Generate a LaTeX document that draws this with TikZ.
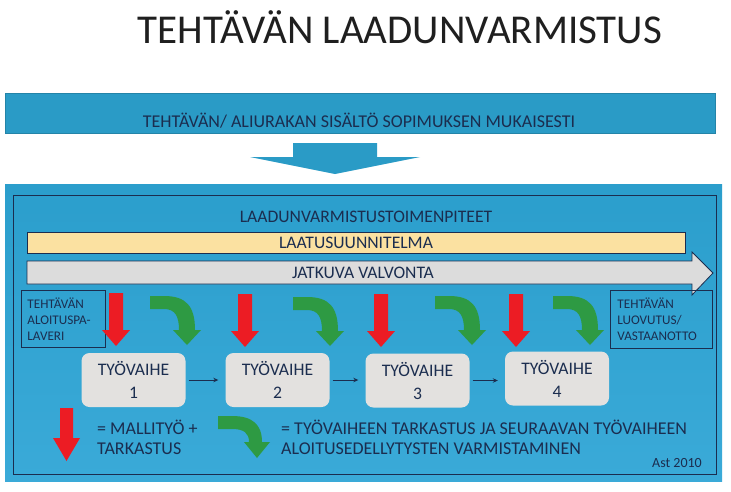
\documentclass[tikz,border=0pt]{standalone}
\usepackage{fontspec}
\setmainfont{Carlito}
\usetikzlibrary{arrows.meta}
\definecolor{bannerblue}{HTML}{2A9BC6}
\definecolor{boxblue}{HTML}{2B9ECC}
\definecolor{boxbluelight}{HTML}{3AAAD8}
\definecolor{navy}{HTML}{1B2D4F}
\definecolor{barbeige}{HTML}{FBE1A1}
\definecolor{bargrey}{HTML}{DCDCDC}
\definecolor{stepgrey}{HTML}{E3E1DF}
\definecolor{redarrow}{HTML}{EC1C24}
\definecolor{greenarrow}{HTML}{2E9A43}
\tikzset{
  txt/.style={text=navy, inner sep=0pt, font=\fontsize{17.6}{20}\selectfont},
  bigtxt/.style={text=navy, inner sep=0pt, font=\fontsize{18}{20}\selectfont},
  smalltxt/.style={text=navy, font=\fontsize{13.2}{16}\selectfont},
  barline/.style={draw=navy, line width=0.8pt},
  sidebox/.style={barline, minimum height=57pt, anchor=north west, align=left, inner sep=0pt, smalltxt},
  stepbox/.style={fill=stepgrey, rounded corners=8pt, minimum width=104pt, minimum height=54pt,
     align=center, text=navy, font=\fontsize{17.6}{23}\selectfont, inner sep=0pt},
  conn/.style={draw=navy, line width=0.7pt, shorten <=3pt, shorten >=7pt, -{Stealth[length=5pt,width=4.5pt]}},
  redarr/.pic={\fill[redarrow] (-7,0) -- (7,0) -- (7,37) -- (14,37) -- (0,53) -- (-14,37) -- (-7,37) -- cycle;},
  greenarr/.pic={\fill[greenarrow] (0,0) -- (14,0) .. controls (36,0) and (45,10) .. (45,34) -- (51,34) -- (37,49) -- (23,34) -- (29,34) .. controls (29,20) and (25,13) .. (14,13) -- (0,13) -- cycle;}
}
\begin{document}
\begin{tikzpicture}[x=1pt,y=-1pt]
\useasboundingbox (0,0) rectangle (731,491);
\fill[white] (0,0) rectangle (731,491);
% title
\node[anchor=base, inner sep=0pt, text=black!88, font=\fontsize{41}{48}\selectfont] (title) at (400,43) {TEHTÄVÄN LAADUNVARMISTUS};
% banner
\node[fill=bannerblue, draw=bannerblue!85!black, line width=0.5pt, minimum width=710pt, minimum height=40pt, anchor=north west, inner sep=0pt] (banner) at (5,93) {};
\node[bigtxt, anchor=base] (bannertext) at (359,127) {TEHTÄVÄN/ ALIURAKAN SISÄLTÖ SOPIMUKSEN MUKAISESTI};
% down arrow
\fill[bannerblue] (293,143) -- (377,143) -- (377,157) -- (420,157) -- (335,174) -- (250,157) -- (293,157) -- cycle;
% big box
\node[top color=boxblue, bottom color=boxbluelight, minimum width=717pt, minimum height=297pt, anchor=north west, inner sep=0pt] (outer) at (5,184) {};
\node[draw=navy, line width=0.8pt, minimum width=703pt, minimum height=279pt, anchor=north west, inner sep=0pt] (inner) at (13,195) {};
\node[txt, anchor=base] (heading) at (366,222) {LAADUNVARMISTUSTOIMENPITEET};
% bars
\node[fill=barbeige, barline, minimum width=658pt, minimum height=21pt, anchor=north west, inner sep=0pt] (planbar) at (27,232) {};
\node[txt] (plantext) at (356,243) {LAATUSUUNNITELMA};
\filldraw[fill=bargrey, barline] (27,261) -- (692,261) -- (692,252) -- (713,273) -- (692,295) -- (692,284) -- (27,284) -- cycle;
\node[txt] (valvonta) at (363,273) {JATKUVA VALVONTA};
% side boxes
\node[sidebox, minimum width=84pt, text width=72pt] (startbox) at (21,290) {TEHTÄVÄN\\ALOITUSPA-\\LAVERI};
\node[sidebox, minimum width=102pt, minimum height=58pt, text width=88pt] (endbox) at (610,290) {TEHTÄVÄN\\LUOVUTUS/\\VASTAANOTTO};
% red arrows
\pic at (116,293) {redarr};
\pic at (245,294) {redarr};
\pic at (381,294) {redarr};
\pic at (516,294) {redarr};
% green arrows
\pic at (150,296) {greenarr};
\pic at (293,297) {greenarr};
\pic at (435,296) {greenarr};
\pic at (553,296) {greenarr};
% steps
\node[stepbox] (s1) at (133.5,380) {TYÖVAIHE\\1};
\node[stepbox] (s2) at (277.5,380) {TYÖVAIHE\\2};
\node[stepbox] (s3) at (417.5,380.5) {TYÖVAIHE\\3};
\node[stepbox] (s4) at (557,378.5) {TYÖVAIHE\\4};
\draw[conn] (s1.east) -- (s1.east -| s2.west);
\draw[conn] (s2.east) -- (s2.east -| s3.west);
\draw[conn] (s3.east) -- (s3.east -| s4.west);
% legend
\fill[redarrow] (60,408) -- (73,408) -- (73,438) -- (80,438) -- (66.5,461) -- (53,438) -- (60,438) -- cycle;
\node[bigtxt, anchor=base west] (leg1a) at (97,434) {= MALLITYÖ +};
\node[bigtxt, anchor=base west] (leg1b) at (97,454) {TARKASTUS};
\fill[greenarrow] (218,416) -- (232,416) .. controls (252,416) and (262,424) .. (262,442) -- (270,442) -- (257,458) -- (244,442) -- (249,442) .. controls (249,433) and (244,429) .. (232,429) -- (218,429) -- cycle;
\node[bigtxt, anchor=base west] (leg2a) at (281,434) {= TYÖVAIHEEN TARKASTUS JA SEURAAVAN TYÖVAIHEEN};
\node[bigtxt, anchor=base west] (leg2b) at (281,454) {ALOITUSEDELLYTYSTEN VARMISTAMINEN};
\node[text=navy, inner sep=0pt, anchor=base east, font=\fontsize{14}{16}\selectfont] (ast) at (702,467) {Ast 2010};
\end{tikzpicture}
\end{document}
